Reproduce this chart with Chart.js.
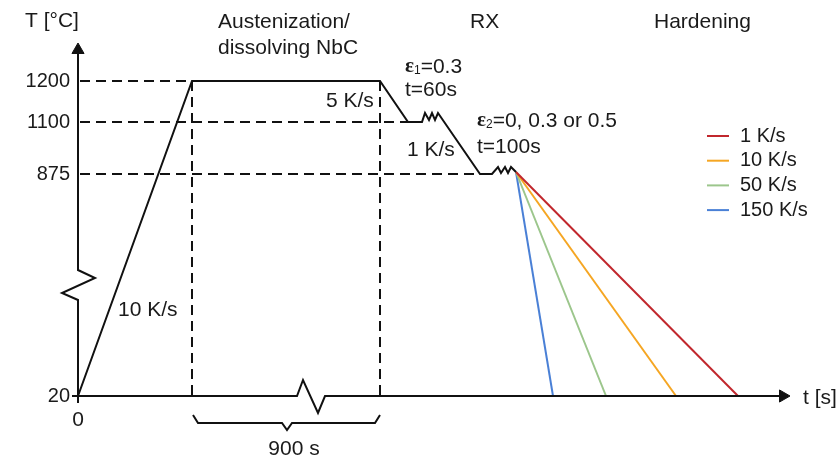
<!DOCTYPE html>
<html>
<head>
<meta charset="utf-8">
<script src="https://cdn.jsdelivr.net/npm/chart.js@4.4.1/dist/chart.umd.min.js"></script>
<style>
html, body { margin: 0; background: #fff; }
.wrap { width: 839px; height: 459px; }
</style>
</head>
<body>
<div class="wrap"><canvas id="myChart"></canvas></div>
<script>
// the T axis is broken, so the levels are schematic heights and not degrees
const tempLabels = ['20', '875', '1100', '1200'];
const tempLevels = [0, 222, 274, 315];

// heating, holding at 1200, first pass at 1100, second pass at 875 (schematic time)
const pathTime = [0, 114, 302, 330, 344, 347, 351, 354, 357, 360, 402, 414, 420, 423, 427, 430, 433, 438];
const pathTemp = [0, 315, 315, 274, 274, 283, 276, 283, 276, 283, 222, 222, 229, 223, 229, 223, 229, 224];

// hardening
const coolRates = ['1 K/s', '10 K/s', '50 K/s', '150 K/s'];
const coolEnd = [660, 598, 528, 475];
const coolColors = ['#c1272d', '#f5a623', '#9cc68c', '#4a80d6'];

const black = '#111';
const FONT = '"Liberation Sans", Arial, sans-serif';

function pts(xs, ys) {
    return xs.map((x, i) => ({ x: x, y: ys[i] }));
}

function line(data, opts) {
    return Object.assign({
        data: data,
        showLine: true,
        borderColor: black,
        borderWidth: 2,
        pointRadius: 0,
        fill: false,
        tension: 0
    }, opts || {});
}

const dash = [10, 6];
const last = pathTime.length - 1;
let datasets = [];

// dashed guides
datasets.push(line([{ x: 2, y: tempLevels[3] }, { x: pathTime[1], y: tempLevels[3] }], { borderDash: dash }));
datasets.push(line([{ x: 2, y: tempLevels[2] }, { x: pathTime[3], y: tempLevels[2] }], { borderDash: dash }));
datasets.push(line([{ x: 2, y: tempLevels[1] }, { x: pathTime[10], y: tempLevels[1] }], { borderDash: dash }));
datasets.push(line([{ x: pathTime[1], y: tempLevels[3] }, { x: pathTime[1], y: 0 }], { borderDash: dash }));
datasets.push(line([{ x: pathTime[2], y: tempLevels[3] }, { x: pathTime[2], y: 0 }], { borderDash: dash }));

// axes with breaks
datasets.push(line(pts([0, 0, -16, 17, 0, 0], [0, 96, 103, 118, 126, 346])));
datasets.push(line(pts([-6, 219, 225, 240, 247, 705], [0, 0, 16, -17, 0, 0])));
datasets.push(line(pts([0, 0], [0, -7])));
// arrow heads
datasets.push({
    data: [{ x: 0, y: 346 }, { x: 705, y: 0 }],
    showLine: false,
    pointStyle: 'triangle',
    pointRadius: 7,
    rotation: [0, 90],
    backgroundColor: black,
    borderColor: black,
    borderWidth: 1
});

// brace under the holding time
datasets.push(line(pts([115, 120, 204, 209, 214, 297, 302], [-19, -27, -27, -34, -27, -27, -19])));

// process path
datasets.push(line(pts(pathTime, pathTemp)));

// cooling lines
coolEnd.forEach((e, i) => {
    datasets.push(line([{ x: pathTime[last], y: pathTemp[last] }, { x: e, y: 0 }], { borderColor: coolColors[i], borderWidth: 2 }));
});

const labels = [
    { t: 'T [°C]', x: -53, y: 375, align: 'left' },
    { t: 'Austenization/', x: 140, y: 374, align: 'left' },
    { t: 'dissolving NbC', x: 140, y: 348, align: 'left' },
    { t: 'RX', x: 392, y: 374, align: 'left' },
    { t: 'Hardening', x: 576, y: 374, align: 'left' },
    { t: '5 K/s', x: 248, y: 295, align: 'left' },
    { t: 't=60s', x: 327, y: 306, align: 'left' },
    { t: '1 K/s', x: 329, y: 246, align: 'left' },
    { t: 't=100s', x: 399, y: 249, align: 'left' },
    { t: '10 K/s', x: 40, y: 86, align: 'left' },
    { t: '900 s', x: 216, y: -53, align: 'center' },
    { t: '0', x: 0, y: -24, align: 'center' },
    { t: 't [s]', x: 725, y: -2, align: 'left' }
];

const eps = [
    { sub: '1', rest: '=0.3', x: 327, y: 329 },
    { sub: '2', rest: '=0, 0.3 or 0.5', x: 399, y: 275 }
];

const textPlugin = {
    id: 'texts',
    afterDatasetsDraw(chart) {
        const ctx = chart.ctx;
        const xs = chart.scales.x, ys = chart.scales.y;
        ctx.save();
        ctx.fillStyle = '#1a1a1a';
        ctx.textBaseline = 'middle';
        ctx.font = '21px ' + FONT;
        labels.forEach(l => {
            ctx.textAlign = l.align;
            ctx.fillText(l.t, xs.getPixelForValue(l.x), ys.getPixelForValue(l.y));
        });
        // tick labels of the T axis
        ctx.font = '20px ' + FONT;
        ctx.textAlign = 'right';
        tempLabels.forEach((t, i) => {
            ctx.fillText(t, xs.getPixelForValue(-8), ys.getPixelForValue(tempLevels[i]));
        });
        // strain labels
        eps.forEach(e => {
            let px = xs.getPixelForValue(e.x), py = ys.getPixelForValue(e.y);
            ctx.textAlign = 'left';
            ctx.font = 'bold 21px "Liberation Serif", serif';
            ctx.fillText('ε', px, py);
            px += ctx.measureText('ε').width;
            ctx.font = '12px ' + FONT;
            ctx.fillText(e.sub, px, py + 4);
            px += ctx.measureText(e.sub).width;
            ctx.font = '21px ' + FONT;
            ctx.fillText(e.rest, px, py);
        });
        // legend
        ctx.font = '20px ' + FONT;
        ctx.lineWidth = 2;
        coolRates.forEach((r, i) => {
            const y = 136 + i * 24.7;
            ctx.strokeStyle = coolColors[i];
            ctx.beginPath();
            ctx.moveTo(707, y);
            ctx.lineTo(729, y);
            ctx.stroke();
            ctx.fillText(r, 740, y);
        });
        ctx.restore();
    }
};

new Chart(document.getElementById('myChart'), {
    type: 'scatter',
    data: { datasets: datasets },
    options: {
        responsive: true,
        maintainAspectRatio: false,
        animation: false,
        layout: { padding: 0, autoPadding: false },
        plugins: { legend: { display: false }, tooltip: { enabled: false } },
        scales: {
            x: { type: 'linear', min: -78, max: 761, display: false },
            y: { type: 'linear', min: -63, max: 396, display: false }
        }
    },
    plugins: [textPlugin]
});
</script>
</body>
</html>
